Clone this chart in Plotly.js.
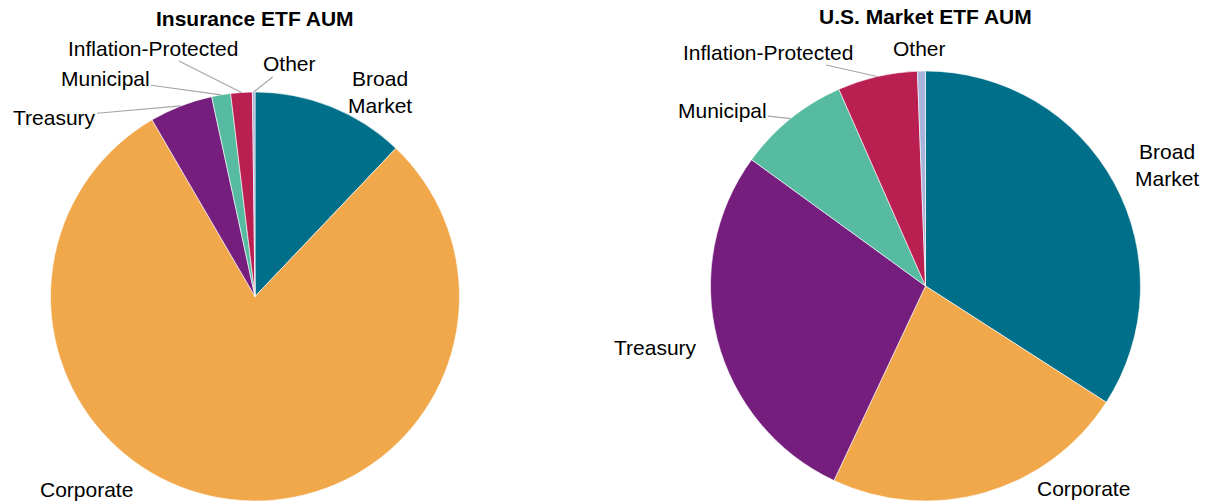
<!DOCTYPE html>
<html>
<head>
<meta charset="utf-8">
<script src="https://cdn.plot.ly/plotly-3.0.1.min.js"></script>
<style>html,body{margin:0;padding:0;background:#fff;}#chart{width:1209px;height:502px;}</style>
</head>
<body>
<div id="chart"></div>
<script>
// ---- data ----
const categories = ['Broad Market', 'Corporate', 'Treasury', 'Municipal', 'Inflation-Protected', 'Other'];
const labelText = ['Broad<br>Market', 'Corporate', 'Treasury', 'Municipal', 'Inflation-Protected', 'Other'];
const insuranceAUM = [12.1, 79.5, 5.0, 1.5, 1.7, 0.2];
const marketAUM = [34.1, 22.9, 28.0, 8.4, 6.0, 0.6];
const titles = ['Insurance ETF AUM', 'U.S. Market ETF AUM'];

// ---- styles ----
const colors = ['#006F89', '#F0A84B', '#761E7E', '#56BBA1', '#BA1F51', '#A9B4DC'];
const W = 1209, H = 502;
const FONT = 'Liberation Sans, Arial, sans-serif';
const LABEL_SIZE = 21, TITLE_SIZE = 21;

// pie geometry (pixels) and label placement (pixels), layout only
const pies = [
  { cx: 255, cy: 296.5, r: 204.5, values: insuranceAUM, title: titles[0], titleY: 19,
    labels: [
      { x: 380, y: 92, arrow: false },
      { x: 86, y: 489, arrow: false },
      { x: 54, y: 117, arrow: true },
      { x: 105, y: 79, arrow: true },
      { x: 153, y: 48, arrow: true },
      { x: 289, y: 64, arrow: true }
    ] },
  { cx: 925.5, cy: 286, r: 215, values: marketAUM, title: titles[1], titleY: 17,
    labels: [
      { x: 1167, y: 165, arrow: false },
      { x: 1083, y: 488, arrow: false },
      { x: 655, y: 347, arrow: false },
      { x: 722, y: 111, arrow: true },
      { x: 768, y: 52, arrow: true },
      { x: 919, y: 48, arrow: false }
    ] }
];

const traces = [];
const annotations = [];
pies.forEach(p => {
  traces.push({
    type: 'pie',
    labels: categories,
    values: p.values,
    sort: false,
    direction: 'clockwise',
    rotation: 0,
    textinfo: 'none',
    hoverinfo: 'label+percent',
    marker: { colors: colors, line: { color: '#ffffff', width: 0.6 } },
    domain: {
      x: [(p.cx - p.r) / W, (p.cx + p.r) / W],
      y: [1 - (p.cy + p.r) / H, 1 - (p.cy - p.r) / H]
    },
    showlegend: false
  });
  annotations.push({
    text: '<b>' + p.title + '</b>', xref: 'paper', yref: 'paper',
    x: p.cx / W, y: 1 - p.titleY / H, xanchor: 'center', yanchor: 'middle',
    showarrow: false, font: { family: FONT, size: TITLE_SIZE, color: '#000' }
  });
  const total = p.values.reduce((a, b) => a + b, 0);
  let cum = 0;
  p.values.forEach((v, i) => {
    const mid = (cum + v / 2) / total * 2 * Math.PI;
    cum += v;
    const L = p.labels[i];
    if (L.arrow) {
      const tx = p.cx + p.r * Math.sin(mid);
      const ty = p.cy - p.r * Math.cos(mid);
      annotations.push({
        text: labelText[i], xref: 'paper', yref: 'paper',
        x: tx / W, y: 1 - ty / H, ax: L.x - tx, ay: L.y - ty,
        showarrow: true, arrowhead: 0, arrowwidth: 1.2, arrowcolor: '#A6A6A6', standoff: 0,
        font: { family: FONT, size: LABEL_SIZE, color: '#000' }
      });
    } else {
      annotations.push({
        text: labelText[i], xref: 'paper', yref: 'paper',
        x: L.x / W, y: 1 - L.y / H, xanchor: 'center', yanchor: 'middle',
        showarrow: false, font: { family: FONT, size: LABEL_SIZE, color: '#000' }
      });
    }
  });
});

Plotly.newPlot('chart', traces, {
  width: W, height: H,
  margin: { l: 0, r: 0, t: 0, b: 0 },
  paper_bgcolor: '#ffffff',
  annotations: annotations,
  font: { family: FONT }
}, { displayModeBar: false, staticPlot: true });
</script>
</body>
</html>
